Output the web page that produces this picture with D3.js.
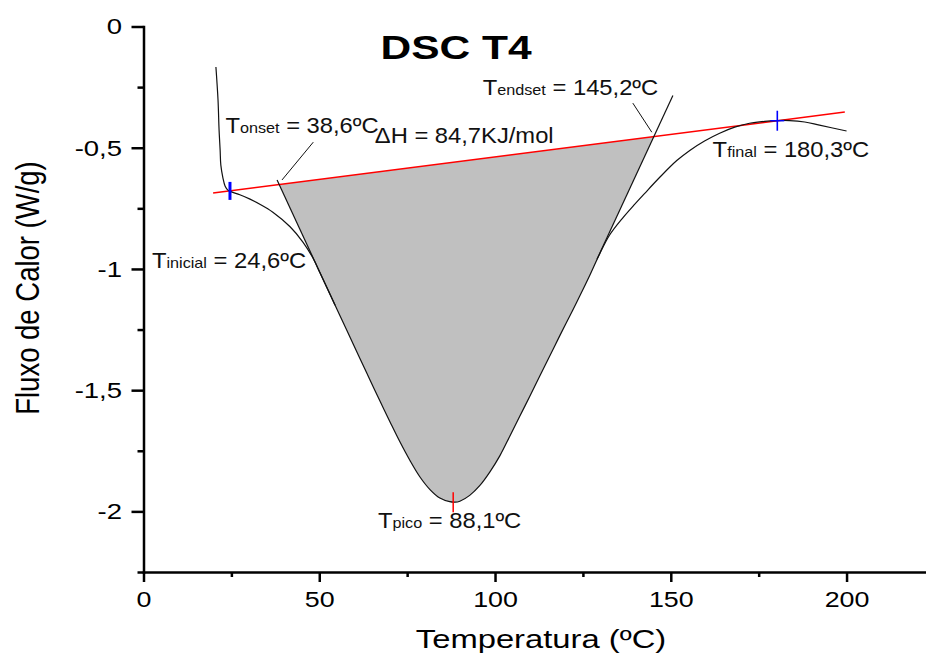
<!DOCTYPE html>
<html>
<head>
<meta charset="utf-8">
<script src="https://cdn.jsdelivr.net/npm/d3@7"></script>
<style>
  body { margin: 0; background: #fff; }
  svg { display: block; }
</style>
</head>
<body>
<svg id="chart" width="926" height="658"></svg>
<script>
// DSC curve: temperature (ºC) and heat flow (W/g)
const temp = [20.6, 21.2, 21.5, 21.8, 22.0, 22.6, 23.2, 24.0, 25.2, 27.4, 30.3, 33.1, 36.8,
  41.7, 45.4, 48.2, 50.2, 52.2, 55.0, 57.9, 61.6, 64.4, 67.2, 70.1, 72.9, 75.8, 78.6,
  81.5, 84.3, 87.1, 88.6, 90.0, 92.8, 95.7, 98.5, 101.4, 104.2, 107.0, 109.9, 112.7,
  115.6, 118.4, 122.1, 124.1, 126.9, 129.8, 132.6, 136.3, 139.5, 142.6, 146.8, 151.7, 155.4,
  159.6, 163.9, 168.2, 172.4, 176.7, 180.1, 183.8, 188.1, 192.3, 200.0];
const flux = [-0.167, -0.303, -0.427, -0.510, -0.572, -0.625, -0.658, -0.675, -0.683, -0.694,
  -0.712, -0.733, -0.766, -0.826, -0.890, -0.955, -1.016, -1.078, -1.165, -1.255, -1.370,
  -1.457, -1.543, -1.630, -1.712, -1.790, -1.857, -1.910, -1.945, -1.960, -1.962, -1.958,
  -1.934, -1.893, -1.838, -1.770, -1.690, -1.609, -1.525, -1.443, -1.358, -1.276, -1.170,
  -1.112, -1.028, -0.937, -0.860, -0.790, -0.737, -0.688, -0.623, -0.553, -0.511, -0.472,
  -0.440, -0.415, -0.399, -0.391, -0.388, -0.388, -0.394, -0.407, -0.431];

// baseline (red) and the two tangents, as end points
const baseT = [19.8, 199.5];
const baseF = [-0.687, -0.353];
const tanLeftT = [38.0, 54.5];
const tanLeftF = [-0.633, -1.150];
const tanRightT = [129.0, 150.6];
const tanRightF = [-0.960, -0.285];

// characteristic temperatures
const tInicial = 24.6;
const tOnset = 38.6;
const tPico = 88.1;
const tEndset = 145.2;
const tFinal = 180.3;
const deltaH = 84.7;

// leader lines of the annotations [t0, f0, t1, f1]
const leaders = [
  [48.3, -0.477, 39.4, -0.633],
  [139.2, -0.316, 144.6, -0.436]
];

const xMajor = [0, 50, 100, 150, 200];
const xMinor = [25, 75, 125, 175];
const yMajor = [0, -0.5, -1, -1.5, -2];
const yMinor = [-0.25, -0.75, -1.25, -1.75, -2.25];

const font = 'Liberation Sans, Arial, Helvetica, sans-serif';
const comma = v => String(v).replace('.', ',');

const svg = d3.select('#chart');
const x = d3.scaleLinear().domain([0, 222.6]).range([143.5, 926]);
const y = d3.scaleLinear().domain([-2.25, 0]).range([572, 26.5]);
const base = d3.scaleLinear().domain(baseT).range(baseF);
const smooth = d3.curveCatmullRom.alpha(0.5);

const pts = temp.map((t, i) => [t, flux[i]]);

// shaded area: between baseline and curve, cut by the tangents
const clip = [
  [tanLeftT[0], tanLeftF[0]], [tanLeftT[1], tanLeftF[1]], [tanLeftT[1], -2.25],
  [tanRightT[0], -2.25], [tanRightT[0], tanRightF[0]], [tanRightT[1], tanRightF[1]]
];
svg.append('clipPath').attr('id', 'peak')
  .append('path')
  .attr('d', 'M' + clip.map(p => [x(p[0]), y(p[1])].join(',')).join('L') + 'Z');

svg.append('path')
  .datum(pts)
  .attr('clip-path', 'url(#peak)')
  .attr('fill', '#c0c0c0')
  .attr('d', d3.area()
    .curve(smooth)
    .x(d => x(d[0]))
    .y0(d => y(base(d[0])))
    .y1(d => y(d[1])));

// axes
function styleAxis(g) {
  g.attr('font-family', font).attr('font-size', 22);
  g.selectAll('path.domain').attr('stroke', '#000').attr('stroke-width', 2.5)
    .attr('stroke-linecap', 'square');
  g.selectAll('.tick line').attr('stroke', '#000').attr('stroke-width', 2.5);
  g.selectAll('.tick text').attr('fill', '#000');
}

const gx = svg.append('g').attr('transform', `translate(0,${y(-2.25)})`);
gx.call(d3.axisBottom(x).tickValues(xMajor).tickSize(10).tickSizeOuter(0).tickFormat(comma));
gx.append('g').call(d3.axisBottom(x).tickValues(xMinor).tickSize(5).tickFormat(''))
  .call(g => g.select('.domain').remove());
styleAxis(gx);
gx.selectAll('.tick text').attr('y', 35).attr('dy', 0).attr('transform', 'scale(1.22,1)');

const gy = svg.append('g').attr('transform', `translate(${x(0)},0)`);
gy.call(d3.axisLeft(y).tickValues(yMajor).tickSize(12).tickSizeOuter(0).tickFormat(comma));
gy.append('g').call(d3.axisLeft(y).tickValues(yMinor).tickSize(6).tickFormat(''))
  .call(g => g.select('.domain').remove());
styleAxis(gy);
gy.selectAll('.tick text').attr('x', -21.5 / 1.25).attr('dy', '0.34em')
  .attr('transform', 'scale(1.25,1)');

// baseline
svg.append('line')
  .attr('x1', x(baseT[0])).attr('y1', y(baseF[0]))
  .attr('x2', x(baseT[1])).attr('y2', y(baseF[1]))
  .attr('stroke', '#ff0000').attr('stroke-width', 1.5);

// tangents and leaders
[[tanLeftT, tanLeftF], [tanRightT, tanRightF]].forEach(([tt, ff]) => {
  svg.append('line')
    .attr('x1', x(tt[0])).attr('y1', y(ff[0]))
    .attr('x2', x(tt[1])).attr('y2', y(ff[1]))
    .attr('stroke', '#111').attr('stroke-width', 1.2);
});
leaders.forEach(l => {
  svg.append('line')
    .attr('x1', x(l[0])).attr('y1', y(l[1]))
    .attr('x2', x(l[2])).attr('y2', y(l[3]))
    .attr('stroke', '#111').attr('stroke-width', 1);
});

// DSC curve
svg.append('path')
  .datum(pts)
  .attr('fill', 'none')
  .attr('stroke', '#111')
  .attr('stroke-width', 1.2)
  .attr('d', d3.line().curve(smooth).x(d => x(d[0])).y(d => y(d[1])));

// markers
function vmark(t, f, half, color, w) {
  svg.append('line')
    .attr('x1', x(t)).attr('x2', x(t))
    .attr('y1', y(f) - half).attr('y2', y(f) + half)
    .attr('stroke', color).attr('stroke-width', w);
}
vmark(tInicial, base(tInicial), 9, '#0000ff', 3);
vmark(tFinal, base(tFinal), 10, '#0000ff', 1.6);
svg.append('line')
  .attr('x1', x(tFinal) - 7).attr('x2', x(tFinal) + 7)
  .attr('y1', y(base(tFinal))).attr('y2', y(base(tFinal)))
  .attr('stroke', '#0000ff').attr('stroke-width', 1.4);
vmark(tPico, d3.min(flux), 10, '#ff0000', 1.5);

// annotations: [main, sub, rest, t, f]
const notes = [
  ['T', 'onset', ` = ${comma(tOnset)}ºC`, 23.3, -0.440],
  ['ΔH', '', ` = ${comma(deltaH)}KJ/mol`, 65.8, -0.481],
  ['T', 'endset', ` = ${comma(tEndset)}ºC`, 96.5, -0.283],
  ['T', 'final', ` = ${comma(tFinal)}ºC`, 161.9, -0.539],
  ['T', 'inicial', ` = ${comma(tInicial)}ºC`, 2.4, -0.997],
  ['T', 'pico', ` = ${comma(tPico)}ºC`, 66.7, -2.070]
];
notes.forEach(n => {
  const txt = svg.append('text')
    .attr('transform', `translate(${x(n[3])},${y(n[4])}) scale(1.08,1)`)
    .attr('font-family', font).attr('font-size', 22).attr('fill', '#111');
  txt.append('tspan').text(n[0]);
  if (n[1]) txt.append('tspan').attr('font-size', 15).text(n[1]);
  txt.append('tspan').text(n[2]);
});

// title and axis titles
svg.append('text')
  .attr('transform', 'translate(456,59) scale(1.25,1)')
  .attr('text-anchor', 'middle')
  .attr('font-family', font).attr('font-size', 34).attr('font-weight', 'bold')
  .text('DSC T4');

svg.append('text')
  .attr('transform', 'translate(541,648) scale(1.26,1)')
  .attr('text-anchor', 'middle')
  .attr('font-family', font).attr('font-size', 26)
  .text('Temperatura (ºC)');

svg.append('text')
  .attr('transform', 'translate(39,288) scale(1.2,1) rotate(-90)')
  .attr('text-anchor', 'middle')
  .attr('font-family', font).attr('font-size', 27.5)
  .text('Fluxo de Calor (W/g)');
</script>
</body>
</html>
